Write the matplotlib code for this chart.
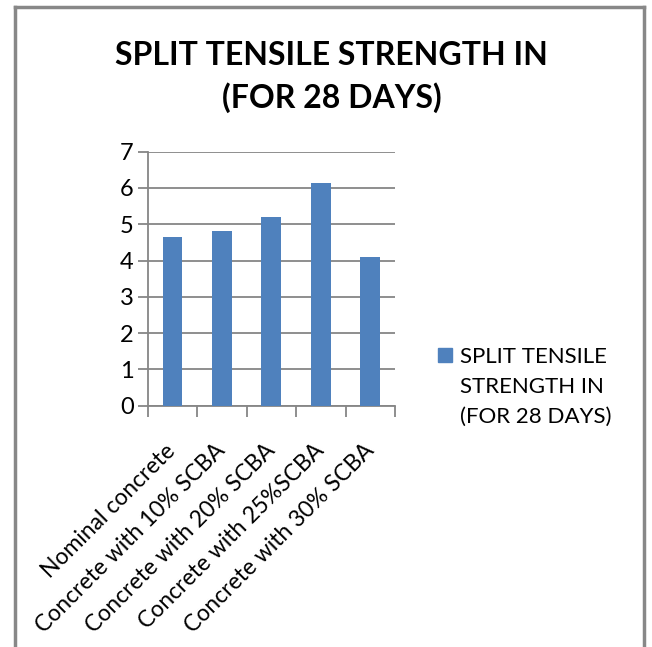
import numpy as np
import matplotlib.pyplot as plt
from matplotlib.lines import Line2D

# Data
categories = ["Nominal concrete", "Concrete with 10% SCBA", "Concrete with 20% SCBA",
              "Concrete with 25%SCBA", "Concrete with 30% SCBA"]
strength = [4.64, 4.82, 5.19, 6.14, 4.09]
series_name = "SPLIT TENSILE\nSTRENGTH IN\n(FOR 28 DAYS)"
title = "SPLIT TENSILE STRENGTH IN\n(FOR 28 DAYS)"

FONT = "Lato"
BAR = "#4F81BD"
GRID = "#868686"

fig = plt.figure(figsize=(6.52, 6.47), dpi=100)
ax = fig.add_axes([0.2265, 0.373, 0.606 - 0.2265, 0.7655 - 0.373])

x = np.arange(len(categories))
ax.bar(x, strength, width=0.4, color=BAR, zorder=3)

ax.set_xlim(-0.5, len(categories) - 0.5)
ax.set_ylim(0, 7)
ax.set_yticks(range(0, 8))
ax.yaxis.grid(True, color=GRID, linewidth=1.3, zorder=0)

# tick labels
ax.set_yticklabels([str(v) for v in range(0, 8)], fontsize=17, family=FONT)
ax.tick_params(axis="y", length=7, width=1.3, color=GRID, pad=3)
ax.set_xticks(x)
ax.set_xticklabels(categories, rotation=45, ha="right", va="center",
                   rotation_mode="anchor", fontsize=16.5, family=FONT)
ax.tick_params(axis="x", which="major", length=0, pad=30)
ax.set_xticks(np.arange(-0.5, len(categories)), minor=True)
ax.tick_params(axis="x", which="minor", length=8, width=1.3, color=GRID)

for s in ["top", "right"]:
    ax.spines[s].set_visible(False)
for s in ["left", "bottom"]:
    ax.spines[s].set_color(GRID)
    ax.spines[s].set_linewidth(1.3)

fig.text(0.509, 0.881, title, ha="center", va="center", fontsize=23,
         fontweight="bold", family=FONT, linespacing=1.45)

# legend
fig.patches.append(plt.Rectangle((438 / 652, 1 - 362 / 647), 14 / 652, 14 / 647,
                                 transform=fig.transFigure, color=BAR))
fig.text(460 / 652, 1 - 387 / 647, series_name, ha="left", va="center",
         fontsize=16, family=FONT, linespacing=1.62)

# chart frame
frame_kw = dict(color="#888888", linewidth=2.5, transform=fig.transFigure)
fig.lines.append(Line2D([15 / 652, 15 / 652], [0, 1 - 7 / 647], **frame_kw))
fig.lines.append(Line2D([15 / 652, 644 / 652], [1 - 7 / 647, 1 - 7 / 647], **frame_kw))
fig.lines.append(Line2D([644 / 652, 644 / 652], [0, 1 - 7 / 647], **frame_kw))

fig.savefig("out.png", dpi=100)
